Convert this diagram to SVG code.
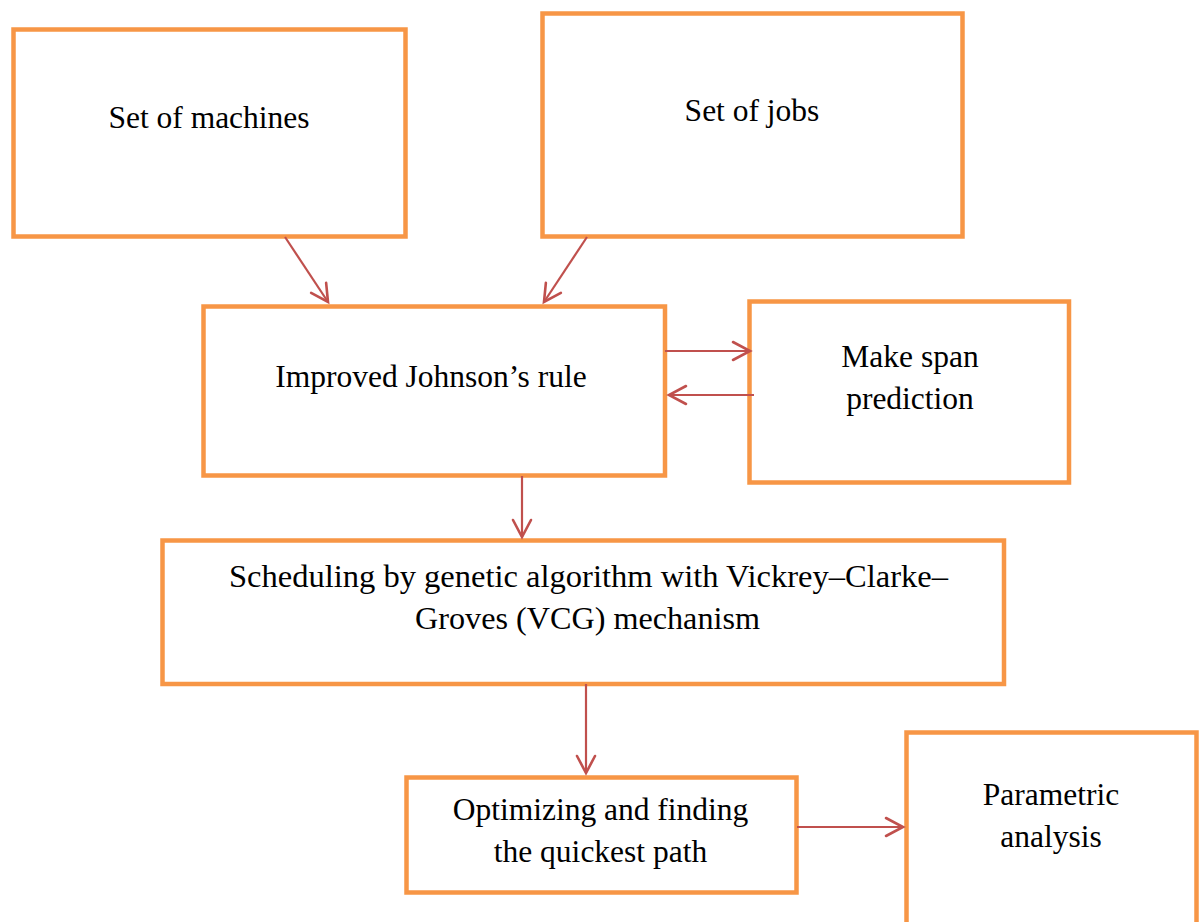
<svg xmlns="http://www.w3.org/2000/svg" width="1202" height="922" viewBox="0 0 1202 922">
<style>
.box{fill:#fff;stroke:#F79646;stroke-width:4.5}
.t{font-family:"Liberation Serif","Times New Roman",serif;font-size:31.5px;fill:#000;text-anchor:middle}
.c{fill:none;stroke:#C0504D;stroke-width:2.2}
</style>
<defs>
<marker id="ah" markerUnits="userSpaceOnUse" markerWidth="24" markerHeight="24" viewBox="-20 -12 24 24" refX="0" refY="0" orient="auto">
<path d="M-17,-9 L0,0 L-17,9" fill="none" stroke="#C0504D" stroke-width="2.6" stroke-linecap="round"/>
</marker>
</defs>
<rect width="1202" height="922" fill="#fff"/>
<g id="n-machines"><rect class="box" x="13.5" y="29.5" width="392" height="207"/><text class="t" x="209" y="128">Set of machines</text></g>
<g id="n-jobs"><rect class="box" x="542.5" y="13.5" width="420" height="223"/><text class="t" x="752" y="121">Set of jobs</text></g>
<g id="n-johnson"><rect class="box" x="203.5" y="306.5" width="461.5" height="169"/><text class="t" x="431" y="387">Improved Johnson’s rule</text></g>
<g id="n-makespan"><rect class="box" x="749.5" y="301.5" width="319.5" height="181"/><text class="t" x="910" y="367">Make span</text><text class="t" x="910" y="409">prediction</text></g>
<g id="n-scheduling"><rect class="box" x="162.5" y="540.5" width="841.5" height="143.5"/><text class="t" x="588.5" y="587" textLength="719" lengthAdjust="spacingAndGlyphs">Scheduling by genetic algorithm with Vickrey–Clarke–</text><text class="t" x="587.5" y="629" textLength="345" lengthAdjust="spacingAndGlyphs">Groves (VCG) mechanism</text></g>
<g id="n-optimizing"><rect class="box" x="406.5" y="777.5" width="390" height="115"/><text class="t" x="600.5" y="820">Optimizing and finding</text><text class="t" x="600.5" y="862">the quickest path</text></g>
<g id="n-parametric"><path class="box" d="M906.5,930 V732.5 H1196.5 V930"/><text class="t" x="1051" y="805">Parametric</text><text class="t" x="1051" y="847">analysis</text></g>
<g id="connectors">
<line class="c" x1="285" y1="237" x2="328" y2="302" marker-end="url(#ah)"/>
<line class="c" x1="587" y1="237" x2="544" y2="302" marker-end="url(#ah)"/>
<line class="c" x1="665" y1="351" x2="750" y2="351" marker-end="url(#ah)"/>
<line class="c" x1="754" y1="395" x2="669" y2="395" marker-end="url(#ah)"/>
<line class="c" x1="522" y1="476" x2="522" y2="537" marker-end="url(#ah)"/>
<line class="c" x1="586" y1="684" x2="586" y2="773" marker-end="url(#ah)"/>
<line class="c" x1="797" y1="827" x2="903" y2="827" marker-end="url(#ah)"/>
</g>
</svg>
